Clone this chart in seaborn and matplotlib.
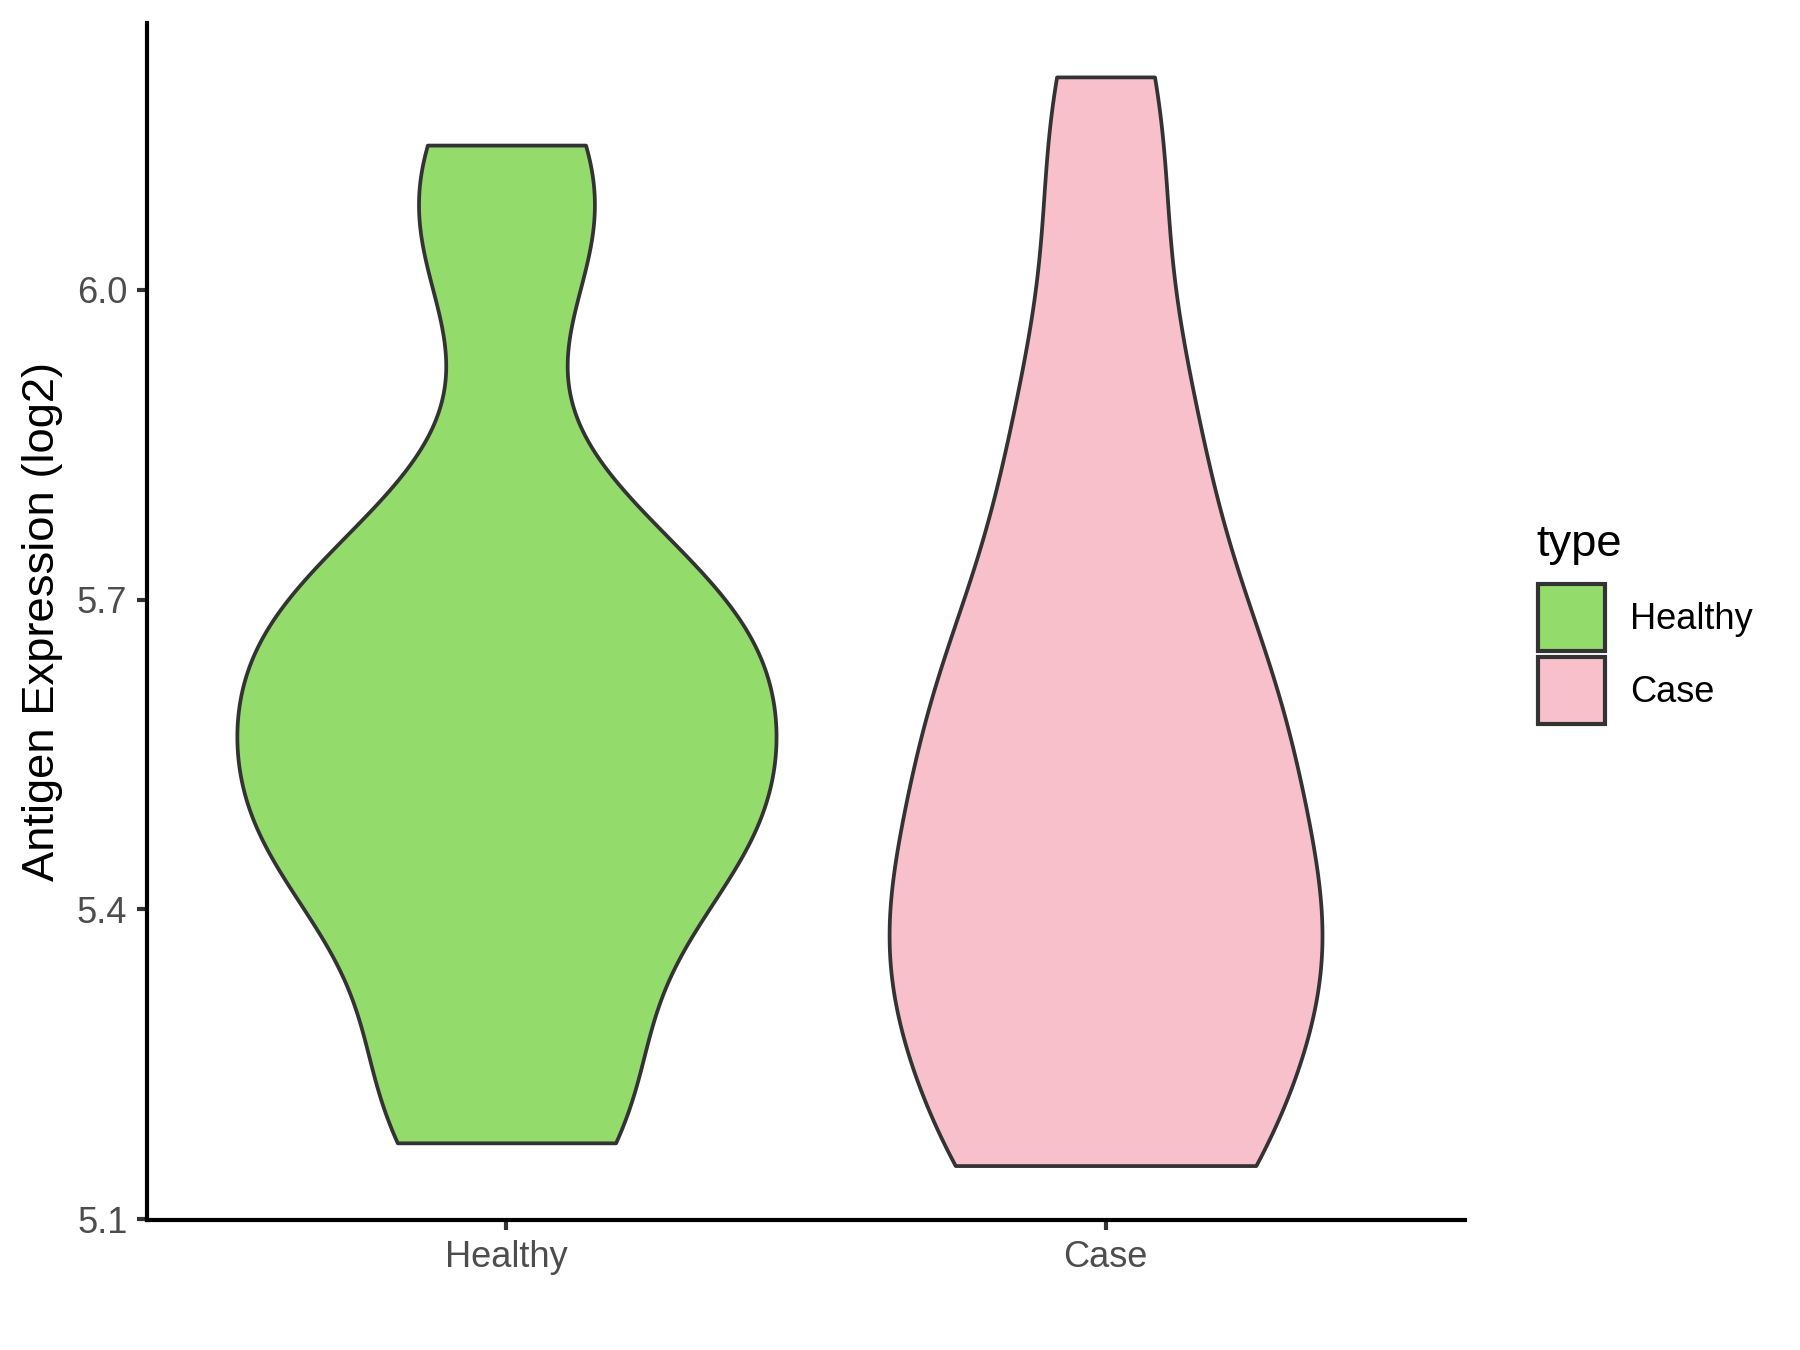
import numpy as np
import pandas as pd
import matplotlib
matplotlib.use("Agg")
import matplotlib.pyplot as plt
import seaborn as sns
from matplotlib.patches import Patch

# ---- data ----
categories = ["Healthy", "Case"]
healthy_values = [5.174, 5.214, 5.214, 5.303, 5.474, 5.474, 5.474, 5.475, 5.475, 5.476,
                  5.642, 5.645, 5.650, 5.659, 5.671, 5.688, 5.785, 6.063, 6.063, 6.140]
case_values = [5.152, 5.153, 5.154, 5.156, 5.353, 5.353, 5.353, 5.353, 5.353, 5.424,
               5.572, 5.572, 5.572, 5.572, 5.698, 5.746, 5.890, 5.890, 6.103, 6.206]
y_ticks = [5.1, 5.4, 5.7, 6.0]
y_label = "Antigen Expression (log2)"
legend_title = "type"
colors = {"Healthy": "#93DC6B", "Case": "#F7C0CB"}

plt.rcParams["font.family"] = ["Liberation Sans", "DejaVu Sans"]

df = pd.DataFrame({
    "type": ["Healthy"] * len(healthy_values) + ["Case"] * len(case_values),
    "value": healthy_values + case_values,
})

fig = plt.figure(figsize=(12, 9), dpi=150)
fig.patch.set_facecolor("white")
ax = fig.add_axes([147 / 1800, 1 - 1220 / 1350, 1318 / 1800, 1197 / 1350])

sns.violinplot(data=df, x="type", y="value", hue="type", order=categories,
               hue_order=categories, palette=colors, saturation=1, cut=0,
               bw_method=0.4128, density_norm="area", common_norm=True,
               inner=None, width=0.9, gridsize=300, linewidth=1.8,
               linecolor="#333333", legend=False, ax=ax)

ax.set_xlim(-0.6, 1.6)
ax.set_ylim(5.0993, 6.2582)
ax.set_yticks(y_ticks)
ax.set_yticklabels([f"{t:.1f}" for t in y_ticks])
ax.set_xlabel("")
ax.set_ylabel(y_label, fontsize=21.8, color="black")
ax.yaxis.set_label_coords(-0.0635, 0.5)

for side in ("top", "right"):
    ax.spines[side].set_visible(False)
for side in ("left", "bottom"):
    ax.spines[side].set_linewidth(2.0)
    ax.spines[side].set_color("black")
ax.tick_params(axis="both", length=5, width=2.0, color="#333333",
               labelcolor="#4D4D4D", labelsize=17.4, pad=4.4)
ax.set_facecolor("white")
ax.grid(False)

# legend
handles = [Patch(facecolor=colors[c], edgecolor="#333333", linewidth=2.0) for c in categories]
fig.text(1536 / 1800, 1 - 556 / 1350, legend_title, fontsize=21.8, color="black",
         ha="left", va="baseline")
fig.legend(handles, categories, loc="upper left",
           bbox_to_anchor=(1538 / 1800, 1 - 584 / 1350), bbox_transform=fig.transFigure,
           frameon=False, fontsize=17.4, handlelength=1.85, handleheight=2.47,
           handletextpad=0.69, labelspacing=0.17, borderpad=0, borderaxespad=0)

fig.savefig("out.png", dpi=150, facecolor="white")
